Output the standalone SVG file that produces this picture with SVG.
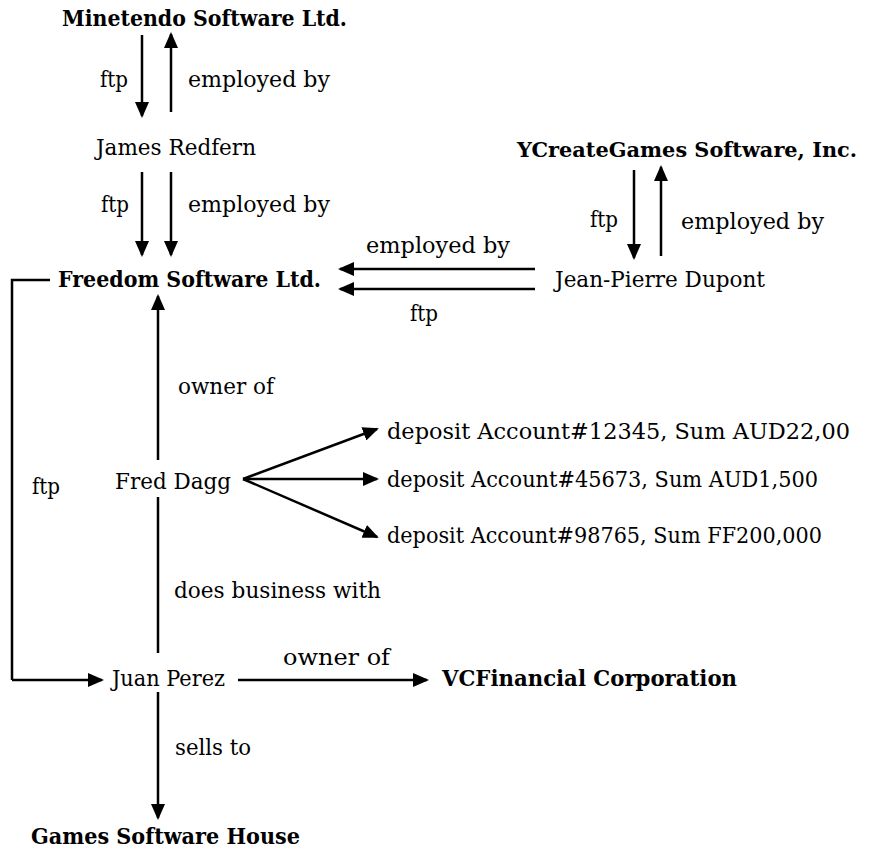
<svg xmlns="http://www.w3.org/2000/svg" width="872" height="849" viewBox="0 0 872 849">
<defs>
<marker id="ah" markerUnits="userSpaceOnUse" markerWidth="16" markerHeight="14" viewBox="0 0 16 14" refX="14" refY="7" orient="auto">
<path d="M0,0 L16,7 L0,14 z" fill="#000"/>
</marker>
</defs>
<style>
text{font-family:"DejaVu Serif","Liberation Serif",serif;font-size:22px;fill:#000}
.b{font-weight:bold}
.c line,.c path{stroke:#000;stroke-width:2.5;fill:none}
.a{marker-end:url(#ah)}
</style>
<rect width="872" height="849" fill="#fff"/>
<g class="c" id="connectors">
<line class="a" x1="142" y1="35" x2="142" y2="116"/>
<line class="a" x1="171" y1="112" x2="171" y2="34"/>
<line class="a" x1="142" y1="172" x2="142" y2="255"/>
<line class="a" x1="171" y1="172" x2="171" y2="255"/>
<line class="a" x1="634" y1="170" x2="634" y2="258"/>
<line class="a" x1="661" y1="256" x2="661" y2="167"/>
<line class="a" x1="535" y1="269" x2="340" y2="269"/>
<line class="a" x1="535" y1="289" x2="340" y2="289"/>
<path d="M50,280 H12 V680"/>
<line class="a" x1="12" y1="680" x2="102" y2="680"/>
<line class="a" x1="158" y1="460" x2="158" y2="296"/>
<line x1="158" y1="497" x2="158" y2="653"/>
<line class="a" x1="243" y1="479" x2="377" y2="429"/>
<line class="a" x1="243" y1="479" x2="377" y2="479"/>
<line class="a" x1="243" y1="479" x2="377" y2="537"/>
<line class="a" x1="238" y1="680" x2="427" y2="680"/>
<line class="a" x1="158" y1="692" x2="158" y2="818"/>
<text x="100" y="87" textLength="28" lengthAdjust="spacingAndGlyphs">ftp</text>
<text x="188" y="87" textLength="142" lengthAdjust="spacingAndGlyphs">employed by</text>
<text x="101" y="212" textLength="28" lengthAdjust="spacingAndGlyphs">ftp</text>
<text x="188" y="212" textLength="142" lengthAdjust="spacingAndGlyphs">employed by</text>
<text x="590" y="227" textLength="28" lengthAdjust="spacingAndGlyphs">ftp</text>
<text x="681" y="229" textLength="143" lengthAdjust="spacingAndGlyphs">employed by</text>
<text x="366" y="253" textLength="144" lengthAdjust="spacingAndGlyphs">employed by</text>
<text x="410" y="321" textLength="28" lengthAdjust="spacingAndGlyphs">ftp</text>
<text x="32" y="494" textLength="28" lengthAdjust="spacingAndGlyphs">ftp</text>
<text x="178" y="394" textLength="96" lengthAdjust="spacingAndGlyphs">owner of</text>
<text x="174" y="598" textLength="207" lengthAdjust="spacingAndGlyphs">does business with</text>
<text x="283" y="665" textLength="107" lengthAdjust="spacingAndGlyphs">owner of</text>
<text x="175" y="755" textLength="76" lengthAdjust="spacingAndGlyphs">sells to</text>
</g>
<g id="minetendo"><text class="b" x="62" y="26" textLength="285" lengthAdjust="spacingAndGlyphs">Minetendo Software Ltd.</text></g>
<g id="james"><text x="96" y="155" textLength="160" lengthAdjust="spacingAndGlyphs">James Redfern</text></g>
<g id="freedom"><text class="b" x="58" y="287" textLength="263" lengthAdjust="spacingAndGlyphs">Freedom Software Ltd.</text></g>
<g id="ycreate"><text class="b" x="517" y="157" style="font-size:21px" textLength="340" lengthAdjust="spacingAndGlyphs">YCreateGames Software, Inc.</text></g>
<g id="jeanpierre"><text x="555" y="287" textLength="210" lengthAdjust="spacingAndGlyphs">Jean-Pierre Dupont</text></g>
<g id="fred"><text x="115" y="489" textLength="116" lengthAdjust="spacingAndGlyphs">Fred Dagg</text></g>
<g id="dep1"><text x="387" y="439" textLength="463" lengthAdjust="spacingAndGlyphs">deposit Account#12345, Sum AUD22,00</text></g>
<g id="dep2"><text x="387" y="487" textLength="431" lengthAdjust="spacingAndGlyphs">deposit Account#45673, Sum AUD1,500</text></g>
<g id="dep3"><text x="387" y="543" textLength="435" lengthAdjust="spacingAndGlyphs">deposit Account#98765, Sum FF200,000</text></g>
<g id="juan"><text x="112" y="686" textLength="113" lengthAdjust="spacingAndGlyphs">Juan Perez</text></g>
<g id="vcfinancial"><text class="b" x="442" y="686" textLength="295" lengthAdjust="spacingAndGlyphs">VCFinancial Corporation</text></g>
<g id="games"><text class="b" x="31" y="844" textLength="269" lengthAdjust="spacingAndGlyphs">Games Software House</text></g>
</svg>
